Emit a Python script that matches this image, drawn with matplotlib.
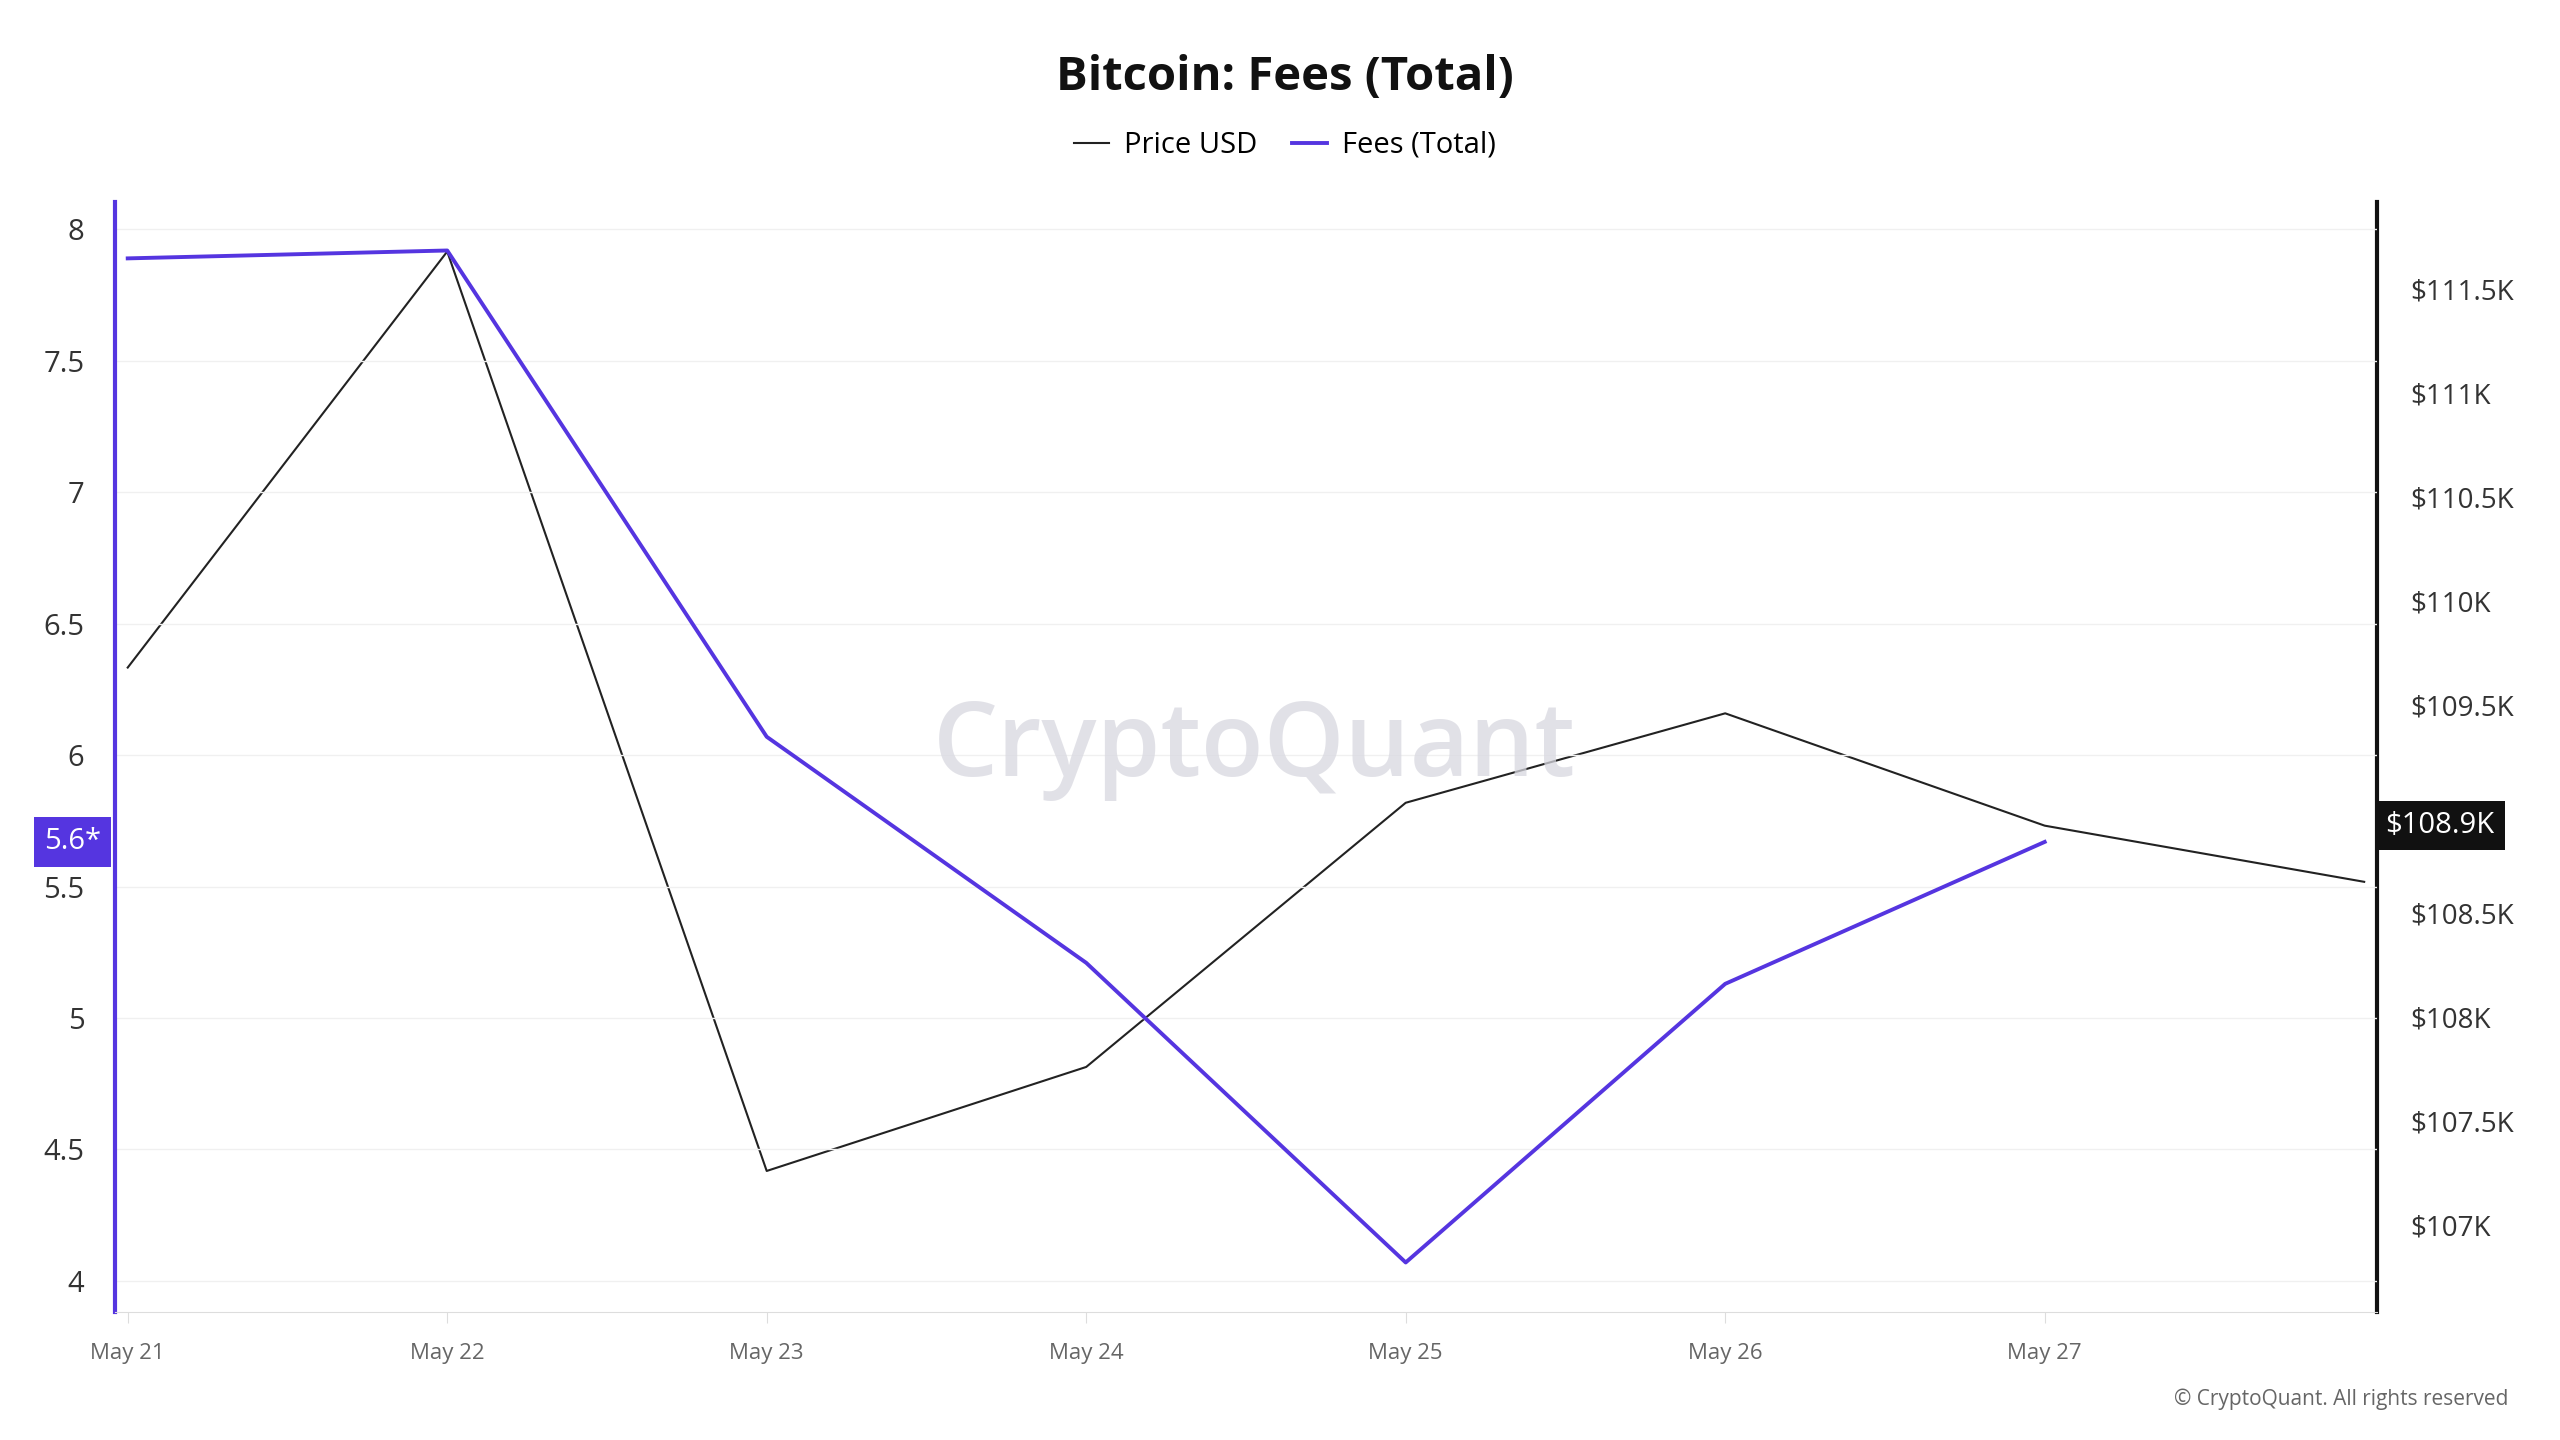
import numpy as np
import matplotlib
matplotlib.use("Agg")
import matplotlib.pyplot as plt
from matplotlib.ticker import FuncFormatter

plt.rcParams["font.family"] = "Open Sans"

dates = ["May 21", "May 22", "May 23", "May 24", "May 25", "May 26", "May 27", "May 28"]
fees = [7.89, 7.92, 6.07, 5.21, 4.07, 5.13, 5.67]
price = [109.68, 111.68, 107.26, 107.76, 109.03, 109.46, 108.92, 108.65]  # thousands USD
right_ticks = [107, 107.5, 108, 108.5, 109.5, 110, 110.5, 111, 111.5]

PURPLE = "#5535e0"

fig = plt.figure(figsize=(25.6, 14.4), dpi=100)
ax = fig.add_axes([0.0449, 0.0886, 0.8836, 0.7714])
ax2 = ax.twinx()

x_price = np.arange(len(price))
x_fees = np.arange(len(fees))
ax2.plot(x_price, price, color="#222222", lw=1.5, label="Price USD")
ax.plot(x_fees, fees, color=PURPLE, lw=2.8, label="Fees (Total)")
ax.set_zorder(ax2.get_zorder() + 1)
ax.patch.set_visible(False)

ax.set_xlim(-0.04, 7.04)
ax.set_ylim(3.88, 8.106)
ax2.set_ylim(106.58, 111.92)

ax.set_yticks([4, 4.5, 5, 5.5, 6, 6.5, 7, 7.5, 8])
ax.set_yticklabels(["4", "4.5", "5", "5.5", "6", "6.5", "7", "7.5", "8"])
ax.grid(axis="y", color="#f0f0f0", lw=1)
ax.set_xticks(range(7))
ax.set_xticklabels(dates[:7])
ax.tick_params(axis="x", colors="#dddddd", labelcolor="#666666", labelsize=16, length=8, pad=14)
ax.tick_params(axis="y", length=0, labelsize=21, labelcolor="#333333", pad=22)

ax2.set_yticks(right_ticks)
ax2.yaxis.set_major_formatter(FuncFormatter(lambda v, p: f"${v:g}K"))
ax2.tick_params(axis="y", length=0, labelsize=20, labelcolor="#333333", pad=24)

for a in (ax, ax2):
    a.spines["top"].set_visible(False)
ax.spines["left"].set_color(PURPLE)
ax.spines["left"].set_linewidth(3)
ax.spines["right"].set_visible(False)
ax2.spines["left"].set_visible(False)
ax2.spines["bottom"].set_visible(False)
ax2.spines["right"].set_color("#111111")
ax2.spines["right"].set_linewidth(3)
ax.spines["bottom"].set_color("#dddddd")

# value tags
ax.annotate("5.6*", xy=(0, fees[-1]), xycoords=("axes fraction", "data"), xytext=(-10, 0),
            textcoords="offset points", ha="right", va="center", fontsize=21, color="white",
            bbox=dict(boxstyle="square,pad=0.35", fc=PURPLE, ec="none"), zorder=10)
ax2.annotate("$108.9K", xy=(1, price[-2]), xycoords=("axes fraction", "data"), xytext=(6, 0),
             textcoords="offset points", ha="left", va="center", fontsize=21, color="white",
             bbox=dict(boxstyle="square,pad=0.35", fc="#111111", ec="none"), zorder=10)

fig.text(0.502, 0.946, "Bitcoin: Fees (Total)", ha="center", va="center",
         fontsize=34, fontweight="bold", color="#111111")
h1, l1 = ax2.get_legend_handles_labels()
h2, l2 = ax.get_legend_handles_labels()
fig.legend(h1 + h2, l1 + l2, loc="center", bbox_to_anchor=(0.502, 0.899), ncol=2,
           frameon=False, fontsize=21, handlelength=1.2, columnspacing=1.2, handletextpad=0.5)

fig.text(0.49, 0.48, "CryptoQuant", ha="center", va="center", fontsize=74,
         color="#d8d8e0", alpha=0.75, fontweight="semibold")
fig.text(0.98, 0.028, "© CryptoQuant. All rights reserved", ha="right", va="center",
         fontsize=15, color="#666666")

fig.savefig("out.png", dpi=100)
